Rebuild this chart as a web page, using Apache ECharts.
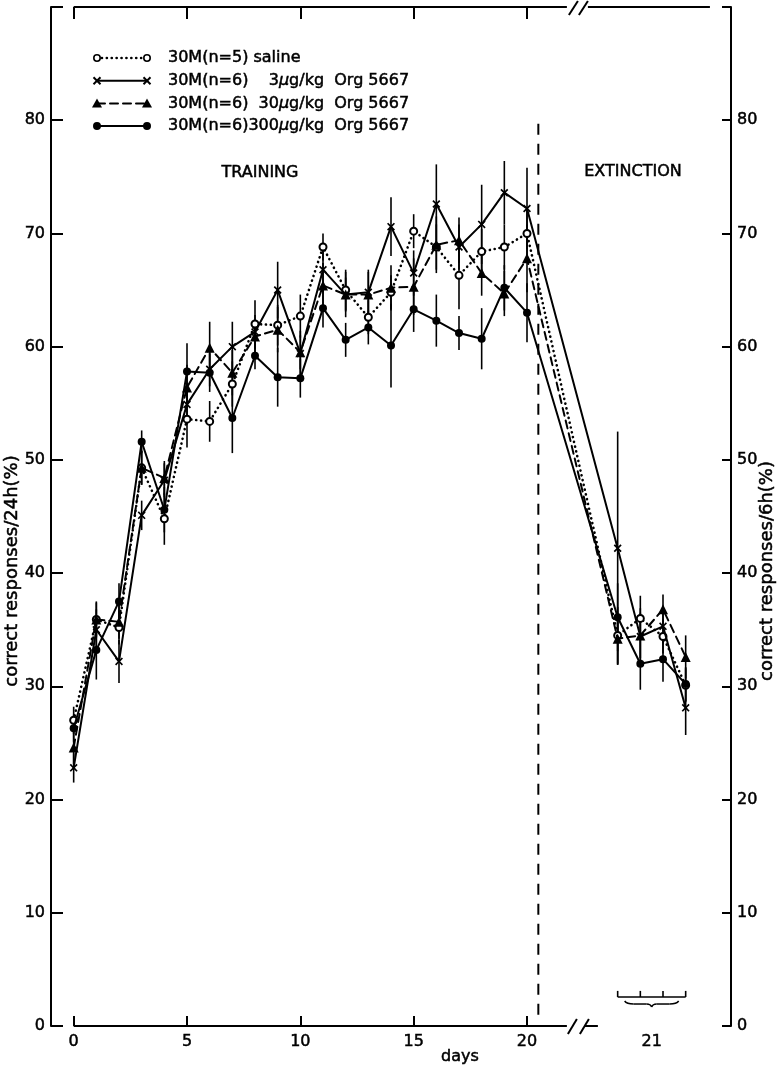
<!DOCTYPE html>
<html>
<head>
<meta charset="utf-8">
<script src="https://cdn.jsdelivr.net/npm/echarts@6/dist/echarts.min.js"></script>
<style>
  html, body { margin: 0; padding: 0; background: #fff; }
  #chart { width: 780px; height: 1068px; }
</style>
</head>
<body>
<div id="chart"></div>
<script>
// ---- data -------------------------------------------------------------
// Training: days 0..20 (correct responses / 24 h, %).
// Extinction: day 21, four 6-h blocks (correct responses / 6 h, %).
const trainingDays = [0,1,2,3,4,5,6,7,8,9,10,11,12,13,14,15,16,17,18,19,20];
const extinctionBlocks = [1, 2, 3, 4];
const xTickDays = [0, 5, 10, 15, 20];
const extinctionDayLabel = '21';
const yTickLabels = [0, 10, 20, 30, 40, 50, 60, 70, 80];

const groupNames = [
  '30M(n=5) saline',
  '30M(n=6)\u2007\u20073\u03bcg/kg  Org 5667',
  '30M(n=6)\u200730\u03bcg/kg  Org 5667',
  '30M(n=6)300\u03bcg/kg  Org 5667'
];

// means: 21 training days followed by 4 extinction blocks
const saline    = [27.0,35.9,35.2,49.3,44.8,53.6,53.4,56.7,62.0,61.9,62.7,68.8,65.0,62.6,64.8,70.2,68.8,66.3,68.4,68.8,70.0, 34.5,36.0,34.4,30.1];
const org3      = [22.8,35.0,32.2,45.1,48.2,54.9,58.0,60.0,61.3,65.0,59.4,66.8,64.6,64.8,70.6,66.5,72.6,68.8,70.8,73.6,72.2, 42.2,34.4,35.3,28.1];
const org30     = [24.6,35.9,35.7,49.3,48.4,56.4,59.9,57.7,60.9,61.5,59.5,65.4,64.6,64.6,65.2,65.3,69.0,69.4,66.5,64.7,67.8, 34.2,34.5,36.8,32.6];
const org300    = [26.3,33.2,37.5,51.6,45.6,57.8,57.7,53.7,59.2,57.3,57.2,63.4,60.6,61.7,60.1,63.3,62.3,61.2,60.7,65.2,63.0, 36.1,32.0,32.4,30.2];

// standard errors, same order
const salineSem = [1.2,1.6,1.5,1.5,2.3,2.5,1.8,2.0,2.1,1.8,1.9,1.2,1.8,1.5,1.5,1.5,2.0,3.0,2.0,2.0,2.2, 2.5,2.0,1.5,1.5];
const org3Sem   = [1.3,1.8,1.9,1.3,1.5,1.8,1.5,2.2,1.5,2.5,2.0,2.0,2.0,2.0,2.6,2.0,3.5,2.0,3.5,2.8,3.6, 10.3,2.5,1.5,2.4];
const org30Sem  = [1.5,1.5,1.5,1.5,1.5,2.0,2.3,2.0,1.5,2.0,1.5,2.0,1.5,2.0,2.0,2.5,2.5,2.0,2.0,2.0,3.0, 2.3,2.0,1.3,1.9];
const org300Sem = [1.2,2.6,1.6,1.0,2.0,2.5,1.7,3.1,1.2,2.6,1.7,1.7,1.5,1.5,3.7,2.0,2.3,1.5,2.7,2.0,2.6, 3.0,2.3,2.0,1.5];

// ---- layout constants ------------------------------------------------
const X_MIN = -1, X_MAX = 29, Y_MAX = 90;
const EXT_OFFSET = 23;                 // block b of day 21 sits at EXT_OFFSET + b
const EXT_LABEL_POS = EXT_OFFSET + 2.5;
const PHASE_SPLIT = 20.5;              // training / extinction boundary
const PHASE_LINE = [1, 80];
const BREAK_AT = 21.76;                // where the broken day axis is cut
const TOP_RESUME_END = 28.07;
const BRACKET_Y = 2.56, BRACKET_TICK_Y = 3.1;

const FONT = '"DejaVu Sans", sans-serif';
const INK = '#000';
// slightly heavier lettering: an outline on axis labels and on free text
const HEAVY_LABEL = { textBorderColor: INK, textBorderWidth: 0.5 };
const HEAVY_TEXT = { stroke: INK, lineWidth: 0.5 };

const xPos = trainingDays.concat(extinctionBlocks.map(b => EXT_OFFSET + b));
const toPairs = vals => vals.map((v, i) => [xPos[i], v]);
const toErr = (vals, sem) => vals.map((v, i) => [xPos[i], v - sem[i], v + sem[i]]);

const X_PATH = 'path://M0,1.5 L1.5,0 L5,3.5 L8.5,0 L10,1.5 L6.5,5 L10,8.5 L8.5,10 L5,6.5 L1.5,10 L0,8.5 L3.5,5 Z';

const groups = [
  { name: groupNames[0], mean: saline, sem: salineSem, symbol: 'emptyCircle', size: 7,
    dash: [0.1, 4.8], width: 2.6, marker: 'ring' },
  { name: groupNames[1], mean: org3, sem: org3Sem, symbol: X_PATH, size: 8,
    dash: 'solid', width: 2, marker: 'cross' },
  { name: groupNames[2], mean: org30, sem: org30Sem, symbol: 'triangle', size: 10,
    dash: [8, 5], width: 2, marker: 'tri' },
  { name: groupNames[3], mean: org300, sem: org300Sem, symbol: 'circle', size: 8,
    dash: 'solid', width: 2, marker: 'dot' }
];

// ---- series ------------------------------------------------------------
const series = [];
groups.forEach(g => {
  series.push({
    type: 'custom',
    name: g.name + ' sem',
    silent: true,
    z: 2,
    data: toErr(g.mean, g.sem),
    encode: { x: 0, y: [1, 2] },
    renderItem: (params, api) => {
      const lo = api.coord([api.value(0), api.value(1)]);
      const hi = api.coord([api.value(0), api.value(2)]);
      return { type: 'line', shape: { x1: lo[0], y1: lo[1], x2: hi[0], y2: hi[1] },
               style: { stroke: INK, lineWidth: 1.6 } };
    }
  });
});
groups.forEach((g, k) => {
  series.push({
    type: 'line',
    name: g.name,
    data: toPairs(g.mean),
    z: 3 + k,
    symbol: g.symbol,
    symbolSize: g.size,
    showAllSymbol: true,
    lineStyle: { color: INK, width: g.width, type: g.dash, cap: 'round' },
    itemStyle: { color: INK, borderColor: INK,
                 borderWidth: g.symbol === 'emptyCircle' ? 1.6 : 0 }
  });
});
series.push({
  type: 'line',
  name: 'phase',
  data: [[PHASE_SPLIT, PHASE_LINE[0]], [PHASE_SPLIT, PHASE_LINE[1]]],
  symbol: 'none',
  z: 1,
  lineStyle: { color: INK, width: 2, type: [11, 9] }
});

const yAxisCommon = {
  type: 'value', min: 0, max: Y_MAX, interval: 10,
  splitLine: { show: false },
  axisLine: { show: true, onZero: false, lineStyle: { color: INK, width: 2 } },
  axisLabel: Object.assign({ color: INK, fontSize: 16, fontFamily: FONT, margin: 6,
               formatter: v => (yTickLabels.indexOf(v) >= 0 ? String(v) : '') }, HEAVY_LABEL)
};

const option = {
  animation: false,
  backgroundColor: '#fff',
  textStyle: { fontFamily: FONT },
  grid: { left: 51, right: 49, top: 7, bottom: 42 },
  xAxis: [
    { type: 'value', min: X_MIN, max: X_MAX, position: 'bottom',
      axisLine: { show: false, onZero: false }, splitLine: { show: false },
      axisTick: { show: true, inside: true, length: 10, customValues: xTickDays,
                  lineStyle: { color: INK, width: 2 } },
      axisLabel: Object.assign({ color: INK, fontSize: 16, fontFamily: FONT, margin: 8,
                   customValues: xTickDays.concat([EXT_LABEL_POS]),
                   formatter: v => (v === EXT_LABEL_POS ? extinctionDayLabel : String(v)) }, HEAVY_LABEL) },
    { type: 'value', min: X_MIN, max: X_MAX, position: 'top',
      axisLine: { show: false, onZero: false }, splitLine: { show: false },
      axisTick: { show: true, inside: true, length: 12, customValues: xTickDays,
                  lineStyle: { color: INK, width: 2 } },
      axisLabel: { show: false } }
  ],
  yAxis: [
    Object.assign({}, yAxisCommon, { position: 'left',
      axisTick: { show: true, inside: true, length: 12, lineStyle: { color: INK, width: 2 } } }),
    Object.assign({}, yAxisCommon, { position: 'right',
      axisTick: { show: true, inside: true, length: 9, lineStyle: { color: INK, width: 2 } } })
  ],
  series: series
};

const chart = echarts.init(document.getElementById('chart'));
chart.setOption(option);

// ---- frame, breaks, bracket, texts and key --------------------------------
const px = (x, y) => chart.convertToPixel({ xAxisIndex: 0, yAxisIndex: 0 }, [x, y]);
const seg = (a, b, w, dash) => ({ type: 'line', silent: true, z: 10,
  shape: { x1: a[0], y1: a[1], x2: b[0], y2: b[1] },
  style: { stroke: INK, lineWidth: w || 2, lineDash: dash || null } });
const curve = (a, c, b, w) => ({ type: 'bezierCurve', silent: true, z: 10,
  shape: { x1: a[0], y1: a[1], cpx1: c[0], cpy1: c[1], x2: b[0], y2: b[1] },
  style: { stroke: INK, lineWidth: w || 1.5, fill: null } });
const txt = (x, y, text, size, opts) => Object.assign({ type: 'text', x: x, y: y, silent: true, z: 10,
  style: Object.assign({ text: text, fill: INK, font: (size || 16) + 'px ' + FONT,
                         align: 'center', verticalAlign: 'middle' }, HEAVY_TEXT) }, opts || {});

const g = [];
// bottom day axis with break
const b0 = px(0, 0), bb = px(BREAK_AT, 0);
g.push(seg(b0, bb));
g.push(seg([bb[0] + 1, bb[1] + 8], [bb[0] + 10, bb[1] - 7]));
g.push(seg([bb[0] + 13, bb[1] + 8], [bb[0] + 22, bb[1] - 7]));
g.push(seg([bb[0] + 18, bb[1]], [bb[0] + 31, bb[1]]));
// top frame with break
const t0 = px(0, Y_MAX), tb = px(BREAK_AT, Y_MAX), te = px(TOP_RESUME_END, Y_MAX);
g.push(seg(t0, tb));
g.push(seg([tb[0] + 2, tb[1] + 8], [tb[0] + 11, tb[1] - 6]));
g.push(seg([tb[0] + 12, tb[1] + 8], [tb[0] + 21, tb[1] - 6]));
g.push(seg([tb[0] + 21, tb[1]], te));

// bracket grouping the four 6-h blocks of day 21
const bl = px(EXT_OFFSET + 1, BRACKET_Y), br = px(EXT_OFFSET + 4, BRACKET_Y);
g.push(seg(bl, br, 1.6));
extinctionBlocks.forEach(b => {
  const p = px(EXT_OFFSET + b, BRACKET_Y), q = px(EXT_OFFSET + b, BRACKET_TICK_Y);
  g.push(seg(p, q, 1.6));
});
const L = bl[0] + 7, R = br[0] - 7, C = (L + R) / 2, Y = bl[1] + 4;
g.push(curve([L, Y], [L + 2, Y + 3], [L + 9, Y + 3]));
g.push(seg([L + 9, Y + 3], [C - 5, Y + 3], 1.5));
g.push(curve([C - 5, Y + 3], [C - 1, Y + 3], [C, Y + 6]));
g.push(curve([C, Y + 6], [C + 1, Y + 3], [C + 5, Y + 3]));
g.push(seg([C + 5, Y + 3], [R - 9, Y + 3], 1.5));
g.push(curve([R - 9, Y + 3], [R - 2, Y + 3], [R, Y]));

// phase labels, axis titles
g.push(txt(260, 173, 'TRAINING'));
g.push(txt(633, 172, 'EXTINCTION'));
g.push(txt(460, 1057, 'days'));
g.push(txt(12, 571, 'correct responses/24h(%)', 18, { rotation: Math.PI / 2 }));
g.push(txt(767, 571, 'correct responses/6h(%)', 18, { rotation: Math.PI / 2 }));

// key
const keyX0 = 97, keyX1 = 147, keyTextX = 168, keyY0 = 58, keyDY = 22.7;
const marker = (kind, x, y) => {
  if (kind === 'ring') return { type: 'circle', z: 11, silent: true, shape: { cx: x, cy: y, r: 3.2 },
                                style: { fill: '#fff', stroke: INK, lineWidth: 1.6 } };
  if (kind === 'dot') return { type: 'circle', z: 11, silent: true, shape: { cx: x, cy: y, r: 4 },
                               style: { fill: INK } };
  if (kind === 'tri') return { type: 'polygon', z: 11, silent: true,
                               shape: { points: [[x, y - 5], [x + 5, y + 4], [x - 5, y + 4]] }, style: { fill: INK } };
  return { type: 'group', silent: true, children: [
    seg([x - 3.5, y - 3.5], [x + 3.5, y + 3.5], 2), seg([x - 3.5, y + 3.5], [x + 3.5, y - 3.5], 2)] };
};
groups.forEach((gr, i) => {
  const y = keyY0 + i * keyDY;
  const dash = Array.isArray(gr.dash) ? gr.dash : null;
  g.push({ type: 'line', silent: true, z: 10, shape: { x1: keyX0, y1: y, x2: keyX1, y2: y },
           style: { stroke: INK, lineWidth: gr.width, lineDash: dash, lineCap: 'round' } });
  g.push(marker(gr.marker, keyX0, y));
  g.push(marker(gr.marker, keyX1, y));
  const parts = gr.name.split('\u03bc');
  g.push({ type: 'text', x: keyTextX, y: y, silent: true, z: 10,
    style: Object.assign({ text: parts.length > 1 ? `{a|${parts[0]}}{m|\u03bc}{a|${parts[1]}}` : `{a|${parts[0]}}`,
             fill: INK, verticalAlign: 'middle', align: 'left',
             rich: { a: Object.assign({ font: '16px ' + FONT, fill: INK }, HEAVY_TEXT),
                     m: Object.assign({ font: 'italic 16px ' + FONT, fill: INK }, HEAVY_TEXT) } }, HEAVY_TEXT) });
});

chart.setOption({ graphic: { elements: g } });
</script>
</body>
</html>
